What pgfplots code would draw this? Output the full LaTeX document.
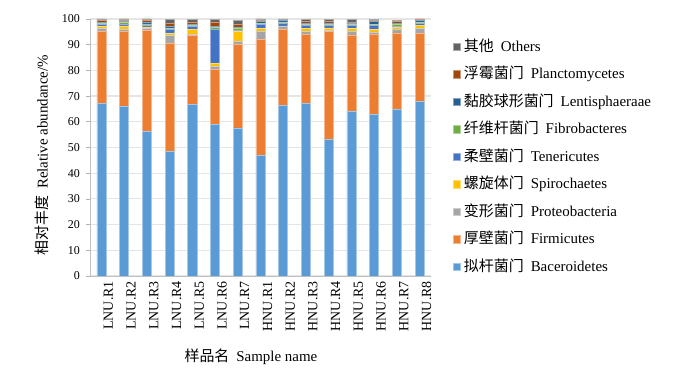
\documentclass[border=0pt]{standalone}
\usepackage{fontspec}
\setmainfont{Liberation Serif}
\newfontfamily\cjk{Noto Sans CJK SC}
\usepackage{pgfplots}
\usepackage{pgfplotstable}
\pgfplotsset{compat=1.18}
\definecolor{cBac}{HTML}{5B9BD5}
\definecolor{cFirm}{HTML}{ED7D31}
\definecolor{cProt}{HTML}{A5A5A5}
\definecolor{cSpir}{HTML}{FFC000}
\definecolor{cTene}{HTML}{4472C4}
\definecolor{cFibr}{HTML}{70AD47}
\definecolor{cLent}{HTML}{255E91}
\definecolor{cPlanc}{HTML}{9E480E}
\definecolor{cOth}{HTML}{636363}
\pgfplotstableread{
x  bac  firm prot spir tene fibr lent planc oth
0  67.2 27.9 1.2 0.8 0.8 0.6 0.4 0.5 0.6
1  66.0 29.1 1.0 1.2 0.7 0.8 0.3 0.4 0.5
2  56.4 39.3 0.6 0.6 0.8 0.4 0.5 0.8 0.6
3  48.4 42.1 3.2 0.8 1.5 0.5 0.7 1.2 1.5
4  66.9 26.6 0.7 1.8 1.0 0.6 0.5 0.7 0.9
5  59.1 21.3 1.0 1.3 13.3 0.7 0.3 1.9 0.9
6  57.6 32.6 1.0 3.9 0.6 0.7 0.4 1.0 1.5
7  46.8 45.4 3.2 0.9 1.7 0.4 0.6 0.3 0.7
8  66.3 29.8 0.9 0.3 1.1 0.5 0.4 0.3 0.4
9  67.2 26.7 1.3 1.2 1.0 0.6 0.4 0.6 0.8
10 53.0 42.2 0.5 0.8 0.9 0.6 0.5 0.5 0.9
11 64.2 29.6 1.6 0.8 1.2 0.6 0.4 0.4 1.0
12 63.0 31.2 0.8 1.0 1.5 0.5 1.0 0.3 0.4
13 64.9 29.7 1.2 0.9 0.5 0.9 0.4 0.6 0.5
14 67.8 26.6 1.9 1.3 0.7 0.6 0.4 0.4 0.3
}\datatab
\begin{document}
\begin{tikzpicture}
\useasboundingbox (0,0) rectangle (700bp,369bp);
\begin{axis}[
  at={(90bp,93bp)}, anchor=south west, scale only axis,
  width=341bp, height=257bp,
  ybar stacked, bar width=0.4,
  xmin=-0.5, xmax=14.5, ymin=0, ymax=100,
  xtick={0,...,14},
  xticklabels={LNU.R1,LNU.R2,LNU.R3,LNU.R4,LNU.R5,LNU.R6,LNU.R7,HNU.R1,HNU.R2,HNU.R3,HNU.R4,HNU.R5,HNU.R6,HNU.R7,HNU.R8},
  xticklabel style={rotate=90, anchor=east, font=\fontsize{14}{16}\selectfont, inner sep=1bp, yshift=-7bp},
  ytick={0,10,...,100},
  yticklabel style={font=\fontsize{12}{14}\selectfont, inner sep=1bp, xshift=-5bp},
  /pgf/number format/assume math mode=true,
  axis x line*=bottom, axis y line*=left,
  axis line style={draw=black!25, line width=0.8bp},
  x tick style={draw=none},
  y tick style={draw=black!30, line width=0.6bp},
  tick align=outside, major tick length=4bp,
  ymajorgrids, grid style={draw=black!10, line width=1.2bp},
  xlabel={{\cjk 样品名}\hspace{7bp}Sample name},
  xlabel style={at={(axis description cs:0.472,-0.315)}, anchor=center, font=\fontsize{15}{17}\selectfont},
  ylabel={{\cjk 相对丰度}\hspace{7bp}Relative abundance/\%},
  ylabel style={at={(axis description cs:-0.141,0.47)}, anchor=center, rotate=0, font=\fontsize{15}{17}\selectfont},
  reverse legend,
  legend style={draw=none, fill=none, at={(1.0636,0.462)}, anchor=west, inner sep=0pt,
    font=\fontsize{15}{17}\selectfont, row sep=9.5bp,
    nodes={text height=11bp, text depth=3bp, inner ysep=2bp, inner xsep=3bp}},
  legend cell align=left,
  legend image code/.code={\fill[#1] (0bp,-3.5bp) rectangle (7.5bp,4bp);},
]
\addplot[fill=cBac, draw=cBac!55!white, line width=0.6bp] table[x=x, y=bac] {\datatab};
\addlegendentry{{\cjk 拟杆菌门}\hspace{7bp}Baceroidetes}
\addplot[fill=cFirm, draw=cFirm!55!white, line width=0.6bp] table[x=x, y=firm] {\datatab};
\addlegendentry{{\cjk 厚壁菌门}\hspace{7bp}Firmicutes}
\addplot[fill=cProt, draw=cProt!55!white, line width=0.6bp] table[x=x, y=prot] {\datatab};
\addlegendentry{{\cjk 变形菌门}\hspace{7bp}Proteobacteria}
\addplot[fill=cSpir, draw=cSpir!55!white, line width=0.6bp] table[x=x, y=spir] {\datatab};
\addlegendentry{{\cjk 螺旋体门}\hspace{7bp}Spirochaetes}
\addplot[fill=cTene, draw=cTene!55!white, line width=0.6bp] table[x=x, y=tene] {\datatab};
\addlegendentry{{\cjk 柔壁菌门}\hspace{7bp}Tenericutes}
\addplot[fill=cFibr, draw=cFibr!55!white, line width=0.6bp] table[x=x, y=fibr] {\datatab};
\addlegendentry{{\cjk 纤维杆菌门}\hspace{7bp}Fibrobacteres}
\addplot[fill=cLent, draw=cLent!55!white, line width=0.6bp] table[x=x, y=lent] {\datatab};
\addlegendentry{{\cjk 黏胶球形菌门}\hspace{7bp}Lentisphaeraae}
\addplot[fill=cPlanc, draw=cPlanc!55!white, line width=0.6bp] table[x=x, y=planc] {\datatab};
\addlegendentry{{\cjk 浮霉菌门}\hspace{7bp}Planctomycetes}
\addplot[fill=cOth, draw=cOth!55!white, line width=0.6bp] table[x=x, y=oth] {\datatab};
\addlegendentry{{\cjk 其他}\hspace{7bp}Others}
\end{axis}
\end{tikzpicture}
\end{document}
